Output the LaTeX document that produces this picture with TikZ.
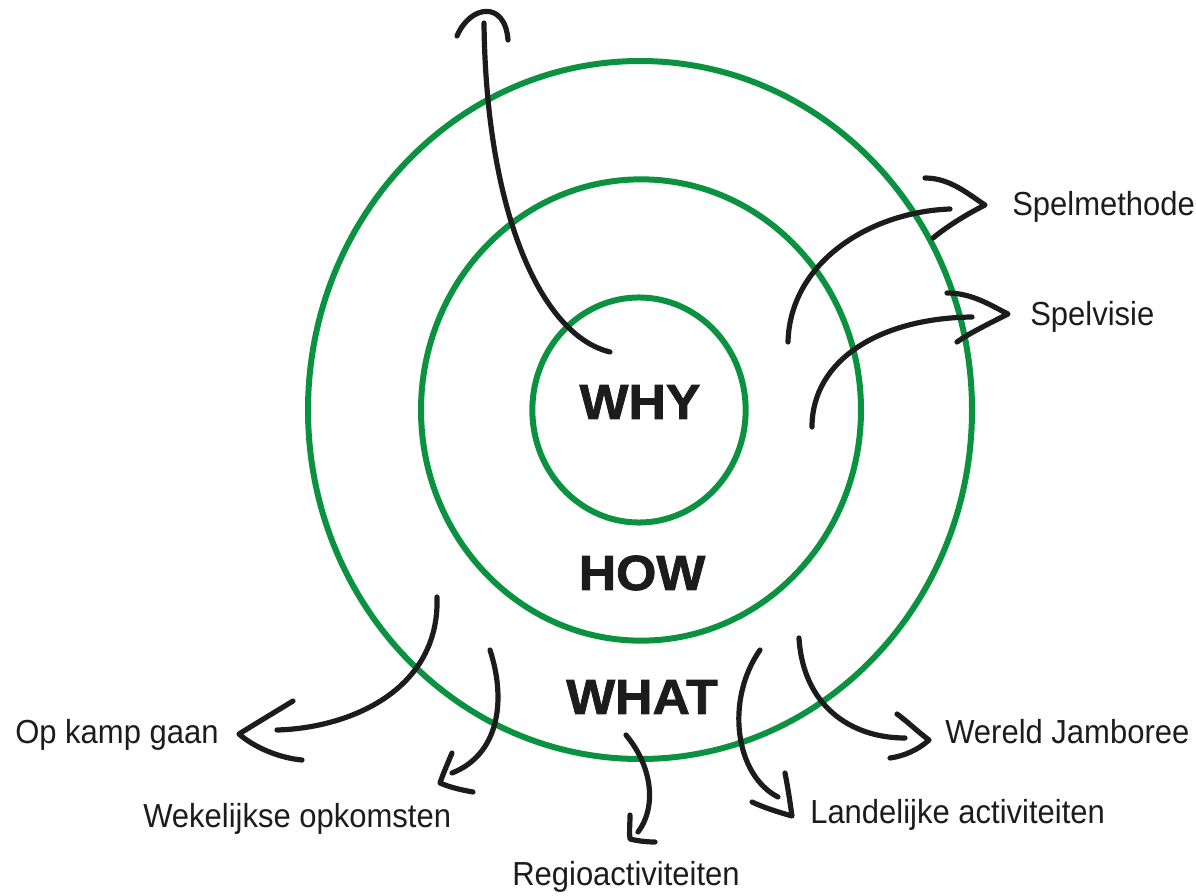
\documentclass[tikz,border=0pt]{standalone}
\usepackage{fontspec}
\setmainfont{Liberation Sans}
\newfontfamily\heavyfont{Liberation Sans}[BoldFeatures={FakeBold=1.6,FakeStretch=1.05}]
\newfontfamily\handfont{Liberation Sans}[FakeStretch=0.93]
\definecolor{ringgreen}{RGB}{10,146,64}
\definecolor{inkblack}{RGB}{28,28,28}
\begin{document}
\begin{tikzpicture}[x=0.75pt,y=-0.75pt,
  ring/.style={draw=ringgreen, line width=4.5pt},
  conn/.style={draw=inkblack, line width=3.9pt, line cap=round, line join=round},
  big/.style={font=\fontsize{37}{40}\heavyfont\bfseries, text=inkblack, inner sep=0pt},
  lab/.style={font=\fontsize{25}{28}\handfont, text=inkblack, inner sep=0pt, anchor=base west}]
\path[use as bounding box] (0,0) rectangle (1196,896);

% rings
\draw[ring] (640,410) ellipse [x radius=249pt, y radius=261.75pt];
\draw[ring] (641,410) ellipse [x radius=165pt, y radius=173pt];
\draw[ring] (639,410) ellipse [x radius=80pt, y radius=84.4pt];

% core words
\node[big] (why) at (640,402) {WHY};
\node[big] (how) at (642,573) {HOW};
\node[big] (what) at (642,697) {WHAT};

% labels
\node[lab] (spm) at (1012,215) {Spelmethode};
\node[lab] (spv) at (1030,325) {Spelvisie};
\node[lab] (kamp) at (15,743) {Op kamp gaan};
\node[lab] (wek) at (143,827) {Wekelijkse opkomsten};
\node[lab] (regio) at (512,885) {Regioactiviteiten};
\node[lab] (land) at (810,823) {Landelijke activiteiten};
\node[lab] (wer) at (945,743) {Wereld Jamboree};

% connector end points
\coordinate (whyS) at (610,352);   \coordinate (whyE) at (484,23);
\coordinate (spmS) at (788,342);   \coordinate (spmE) at (950,209);
\coordinate (spvS) at (812,427);   \coordinate (spvE) at (972,317);
\coordinate (kampS) at (437,597);  \coordinate (kampE) at (277,730);
\coordinate (wekS) at (490,650);   \coordinate (wekE) at (452,773);
\coordinate (regS) at (626,735);   \coordinate (regE) at (638,832);
\coordinate (landS) at (760,650);  \coordinate (landE) at (778,797);
\coordinate (werS) at (799,638);   \coordinate (werE) at (905,738);

% shafts
\draw[conn] (whyS) .. controls (540,335) and (486,210) .. (whyE);
\draw[conn] (spmS) .. controls (790,262) and (870,212) .. (spmE);
\draw[conn] (spvS) .. controls (812,360) and (880,318) .. (spvE);
\draw[conn] (kampS) .. controls (440,690) and (350,728) .. (kampE);
\draw[conn] (wekS) .. controls (507,702) and (498,755) .. (wekE);
\draw[conn] (regS) .. controls (655,770) and (655,810) .. (regE);
\draw[conn] (landS) .. controls (725,700) and (735,775) .. (landE);
\draw[conn] (werS) .. controls (803,705) and (850,738) .. (werE);

% heads
\draw[conn] (457,36) .. controls (470,5) and (505,0) .. (508,40);
\draw[conn] (925,178) .. controls (950,178) and (968,194) .. (985,205) .. controls (965,215) and (945,228) .. (933,238);
\draw[conn] (947,293) .. controls (972,293) and (990,305) .. (1008,314) .. controls (988,324) and (968,334) .. (957,342);
\draw[conn] (293,701) .. controls (275,712) and (255,724) .. (239,734) .. controls (255,748) and (280,758) .. (302,760);
\draw[conn] (452,753) .. controls (447,765) and (443,774) .. (440,783) .. controls (452,788) and (462,790) .. (473,792);
\draw[conn] (630,815) .. controls (630,825) and (629,832) .. (630,839) .. controls (638,841) and (647,842) .. (655,842);
\draw[conn] (785,773) .. controls (788,788) and (790,802) .. (792,816) .. controls (778,812) and (765,808) .. (752,802);
\draw[conn] (897,714) .. controls (908,722) and (918,732) .. (929,740) .. controls (918,750) and (904,756) .. (890,758);
\end{tikzpicture}
\end{document}
